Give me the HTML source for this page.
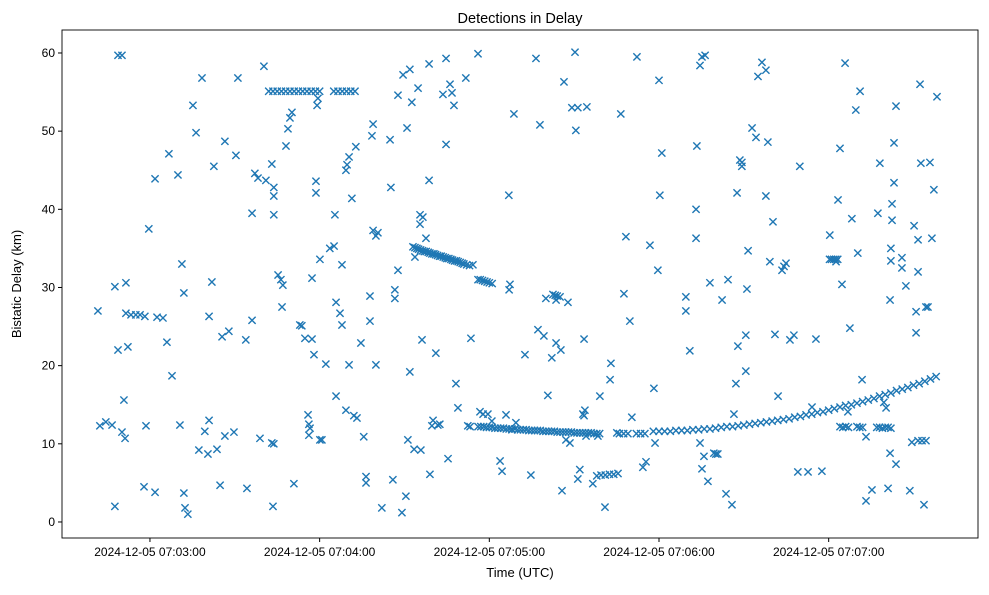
<!DOCTYPE html>
<html><head><meta charset="utf-8"><style>
body{margin:0;background:#fff;font-family:"Liberation Sans",sans-serif;}
svg text{font-family:"Liberation Sans",sans-serif;fill:#000;}
</style></head><body>
<svg id="chart" width="989" height="590" xmlns="http://www.w3.org/2000/svg">
<rect width="989" height="590" fill="#fff"/>
<text x="520" y="23" font-size="14.5" text-anchor="middle">Detections in Delay</text>
<text x="520" y="577" font-size="13" text-anchor="middle">Time (UTC)</text>
<text transform="translate(21,284) rotate(-90)" font-size="13" text-anchor="middle">Bistatic Delay (km)</text>
<g id="ticks"></g>
<g id="marks"></g>
<rect x="62" y="30" width="916" height="508" fill="none" stroke="#000" stroke-width="0.9"/>
</svg>
<script>
// seconds since 07:00:00 UTC, delay in km
const scatterTimes = [161.6,162.3,164.4,166.6,167.6,168.7,170.1,167.6,168.7,170.1,171.2,170.8,171.5,172.2,171.5,173.3,175.0,176.5,178.2,177.9,178.6,179.6,181.8,181.8,182.5,184.6,186.0,186.7,187.8,189.9,190.6,191.3,192.0,192.4,193.4,192.0,195.2,196.3,197.3,198.4,199.4,200.5,200.9,200.9,201.9,202.6,203.7,204.8,205.5,206.5,206.5,207.9,209.7,210.4,211.1,213.9,214.3,216.1,216.1,217.1,218.2,218.9,220.3,221.0,223.1,223.1,223.8,223.5,223.8,223.8,223.8,225.3,226.3,227.0,226.7,228.1,228.8,229.5,230.2,230.9,233.0,233.7,234.8,235.9,236.2,236.2,236.6,237.3,237.3,238.0,238.7,238.7,239.1,239.4,240.1,240.8,240.1,242.2,243.6,245.1,245.4,245.8,245.8,247.2,247.9,247.9,249.3,249.3,249.7,250.4,250.4,251.4,252.1,252.8,253.2,254.6,255.6,256.4,256.4,257.8,257.8,258.5,258.9,259.9,258.9,259.9,260.6,262.0,264.9,265.2,265.9,266.6,266.6,267.7,267.7,269.1,269.5,270.5,270.9,271.2,271.9,271.9,272.6,273.4,273.7,274.8,275.5,275.5,275.8,276.2,276.5,277.6,278.7,278.7,279.0,279.7,280.1,281.1,281.8,282.5,283.6,284.7,284.7,285.4,286.1,286.8,287.5,288.2,288.9,291.7,292.4,293.2,293.5,294.2,296.0,296.7,297.8,299.5,300.9,303.8,304.5,305.9,306.9,308.7,308.0,307.3,309.4,312.6,314.7,316.5,317.2,317.9,319.3,320.0,320.7,322.1,323.6,323.6,325.3,325.7,326.4,327.1,327.8,328.5,329.2,330.3,330.6,331.3,331.3,332.0,333.1,333.5,333.5,333.8,334.2,334.5,336.6,338.4,339.1,340.9,342.7,343.0,345.1,346.5,347.6,348.3,349.7,350.4,352.2,354.3,355.4,356.8,358.6,358.2,360.0,359.6,360.3,361.0,369.5,369.5,370.9,373.4,373.1,373.1,374.5,374.5,375.2,375.9,377.3,378.0,379.4,380.1,380.8,382.3,383.7,384.4,385.8,386.5,387.2,387.6,387.9,388.6,389.3,389.3,390.7,390.7,391.5,391.1,392.9,394.3,395.0,396.4,397.8,397.8,398.5,399.2,400.3,401.0,402.1,403.5,404.2,404.9,406.3,407.7,409.1,409.8,412.7,414.1,415.5,417.6,420.4,422.6,423.3,424.0,424.7,425.8,426.8,427.5,428.2,429.6,430.3,431.1,431.8,433.2,433.2,435.3,437.4,438.1,439.5,440.3,441.7,441.7,441.0,442.0,443.1,442.0,442.4,443.8,442.4,443.1,443.8,445.9,445.9,447.3,448.7,450.2,450.9,450.9,451.6,451.6,452.3,452.6,453.7,454.4,455.1,455.8,456.5,457.2,458.3,449.4,451.6,453.0,454.4,375.2,376.3];
const scatterDelays = [27.0,12.3,12.8,12.4,2.0,59.7,59.7,30.1,22.0,11.5,10.7,15.6,30.6,22.4,26.7,26.5,26.5,26.5,26.3,4.5,12.3,37.5,3.8,43.9,26.2,26.1,23.0,47.1,18.7,44.4,12.4,33.0,3.7,1.8,1.0,29.3,53.3,49.8,9.2,56.8,11.6,8.7,13.0,26.3,30.7,45.5,9.3,4.7,23.7,11.0,48.7,24.4,11.5,46.9,56.8,23.3,4.3,39.5,25.8,44.6,44.0,10.7,58.3,43.7,45.8,10.1,10.0,2.0,39.3,41.7,42.8,31.6,31.0,30.3,27.5,48.1,50.3,51.7,52.4,4.9,25.2,25.1,23.5,13.7,12.5,11.1,12.0,23.4,31.2,21.4,43.6,42.1,53.3,54.2,10.5,10.5,33.6,20.2,35.0,35.3,39.3,16.1,28.1,26.7,32.9,25.2,45.0,14.3,45.7,46.7,20.1,41.4,13.6,48.0,13.3,22.9,10.9,5.8,5.0,28.9,25.7,49.4,50.9,20.1,37.3,36.6,37.0,1.8,48.9,42.8,5.4,28.6,29.7,32.2,54.6,1.2,57.2,3.3,50.4,10.5,19.2,57.9,53.7,9.3,33.9,55.5,38.1,39.3,9.2,23.3,39.0,36.3,43.7,58.6,6.1,12.3,13.0,21.6,12.4,12.5,54.7,59.3,48.3,8.1,56.0,54.9,53.3,17.7,14.6,56.8,12.3,12.2,23.5,32.9,59.9,14.1,13.8,13.8,12.9,7.8,6.5,13.7,41.8,52.2,11.8,30.4,12.7,21.4,6.0,59.3,24.6,50.8,23.8,28.6,16.2,21.0,28.4,22.9,22.0,4.0,56.3,10.5,28.1,10.1,53.0,60.1,50.1,5.5,53.0,6.7,13.8,23.4,13.6,14.3,11.0,53.1,4.9,11.0,16.1,1.9,18.2,20.3,11.4,52.2,29.2,36.5,25.7,13.4,59.5,7.0,7.7,35.4,10.1,17.1,56.5,32.2,41.8,47.2,28.8,27.0,21.9,48.1,36.3,40.0,58.4,10.1,6.8,8.4,5.2,30.6,8.8,8.7,8.7,28.4,3.6,31.0,2.2,13.8,17.7,42.1,22.5,46.3,46.0,45.5,23.9,19.3,34.7,29.8,50.4,49.2,57.0,58.8,57.8,41.7,48.6,33.3,38.4,24.0,16.1,32.2,32.7,33.1,23.3,23.9,6.4,45.5,6.4,14.7,23.4,6.5,36.7,33.3,41.2,47.8,30.4,58.7,14.1,24.8,38.8,52.7,34.4,55.1,18.2,10.9,2.7,4.1,39.5,45.9,15.3,14.6,28.4,8.8,4.3,33.4,48.5,35.0,40.7,53.2,38.6,43.4,7.4,33.8,32.5,30.2,4.0,37.9,26.9,24.2,32.0,36.1,56.0,45.9,2.2,27.5,27.5,46.0,36.3,42.5,54.4,10.2,10.4,10.4,10.4,59.5,59.7];
// descending track ~35 -> 29 km
const trackATimes = [273,273.7,274.4,275,275.7,276.4,277,277.7,278.4,279,279.7,280.4,281,281.7,282.4,283,283.7,284.4,285,285.7,286.4,287,287.7,288.4,289,289.7,290.4,291,292,293,296,296.8,297.6,298.4,299.2,300,301,307,322.5,323.3,324,325];
const trackADelays = [35.2,35.1,35.0,34.9,34.8,34.7,34.6,34.6,34.5,34.4,34.3,34.3,34.2,34.1,34.0,34.0,33.9,33.8,33.7,33.7,33.6,33.5,33.4,33.4,33.3,33.2,33.1,33.0,32.9,32.8,31.0,31.0,30.9,30.8,30.7,30.6,30.5,29.7,29.1,29.0,28.9,28.8];
// ~12 km track
const trackBTimes = [296,297,298,299,300,301,302,303,304,305,306,307,308,309,310,311,312,313,314,315,316,317,318,319,320,321,322,323,324,325,326,327,328,329,330,331,332,333,334,335,336,337,338,339,346,347.5,349,352,353.5,355,338,339.5,341,342.5,344,345.5,424,425,426,427,430,431,432,437,438,439,440,441,442,420.3,421,421.8,422.5,423.2];
const trackBDelays = [12.2,12.2,12.2,12.1,12.1,12.1,12.0,12.0,12.0,12.0,11.9,11.9,11.9,11.9,11.8,11.8,11.8,11.8,11.7,11.7,11.7,11.7,11.7,11.6,11.6,11.6,11.6,11.6,11.5,11.5,11.5,11.5,11.5,11.5,11.4,11.4,11.4,11.4,11.4,11.4,11.4,11.3,11.3,11.3,11.3,11.3,11.3,11.3,11.3,11.3,5.9,6.0,6.0,6.1,6.1,6.2,12.2,12.1,12.2,12.1,12.2,12.1,12.1,12.1,12.1,12.0,12.1,12.1,12.0,33.6,33.6,33.6,33.6,33.6];
// rising track 11.6 -> 18.6 km
const trackCTimes = [358,360,362,364,366,368,370,372,374,376,378,380,382,384,386,388,390,392,394,396,398,400,402,404,406,408,410,412,414,416,418,420,422,424,426,428,430,432,434,436,438,440,442,444,446,448,450,452,454,456,458];
const trackCDelays = [11.6,11.6,11.6,11.6,11.7,11.7,11.7,11.8,11.8,11.9,11.9,12.0,12.1,12.2,12.2,12.3,12.4,12.5,12.6,12.7,12.8,12.9,13.0,13.1,13.2,13.4,13.5,13.7,13.8,14.0,14.1,14.3,14.5,14.7,14.9,15.0,15.2,15.4,15.6,15.8,16.1,16.3,16.5,16.8,17.0,17.2,17.5,17.7,18.0,18.3,18.6];
// horizontal 55.1 km line
const trackDTimes = [222,223.5,225,226.5,228,229.5,231,232.5,234,235.5,237,238.5,240,245,246.5,248,249.5,251,252.5];
const trackDDelays = [55.1,55.1,55.1,55.1,55.1,55.1,55.1,55.1,55.1,55.1,55.1,55.1,55.1,55.1,55.1,55.1,55.1,55.1,55.1];

const xTickValues = [180,240,300,360,420];
const xTickLabels = ["2024-12-05 07:03:00","2024-12-05 07:04:00","2024-12-05 07:05:00","2024-12-05 07:06:00","2024-12-05 07:07:00"];
const yTickValues = [0,10,20,30,40,50,60];

const NS = "http://www.w3.org/2000/svg";
const X0 = 62, X1 = 978, Y0 = 30, Y1 = 538;
const tMin = 148.9, tMax = 472.8, dMin = -2.05, dMax = 62.94;
function xScale(t){ return X0 + (t - tMin) / (tMax - tMin) * (X1 - X0); }
function yScale(d){ return Y1 - (d - dMin) / (dMax - dMin) * (Y1 - Y0); }

const ticks = document.getElementById('ticks');
xTickValues.forEach((v, i) => {
  const x = xScale(v);
  const ln = document.createElementNS(NS, 'line');
  ln.setAttribute('x1', x); ln.setAttribute('x2', x);
  ln.setAttribute('y1', Y1); ln.setAttribute('y2', Y1 + 4);
  ln.setAttribute('stroke', '#000');
  
  
  ticks.appendChild(ln);
  const tx = document.createElementNS(NS, 'text');
  tx.setAttribute('x', x); tx.setAttribute('y', Y1 + 18);
  tx.setAttribute('font-size', '12'); tx.setAttribute('text-anchor', 'middle');
  tx.textContent = xTickLabels[i];
  
  
  ticks.appendChild(tx);
});
yTickValues.forEach(v => {
  const y = yScale(v);
  const ln = document.createElementNS(NS, 'line');
  ln.setAttribute('x1', X0 - 4); ln.setAttribute('x2', X0);
  ln.setAttribute('y1', y); ln.setAttribute('y2', y);
  ln.setAttribute('stroke', '#000');
  
  
  ticks.appendChild(ln);
  const tx = document.createElementNS(NS, 'text');
  tx.setAttribute('x', X0 - 7); tx.setAttribute('y', y + 4);
  tx.setAttribute('font-size', '12'); tx.setAttribute('text-anchor', 'end');
  tx.textContent = v;
  
  
  ticks.appendChild(tx);
});

const marks = document.getElementById('marks');
function drawSeries(ts, ds){
  for (let i = 0; i < ts.length; i++){
    const x = xScale(ts[i]), y = yScale(ds[i]), r = 3.6;
    const p = document.createElementNS(NS, 'path');
    p.setAttribute('d', `M${x-r},${y-r}L${x+r},${y+r}M${x-r},${y+r}L${x+r},${y-r}`);
    p.setAttribute('stroke', '#1f77b4');
    p.setAttribute('stroke-width', '1.4');
    p.setAttribute('fill', 'none');
    
    
    marks.appendChild(p);
  }
}
drawSeries(scatterTimes, scatterDelays);
drawSeries(trackATimes, trackADelays);
drawSeries(trackBTimes, trackBDelays);
drawSeries(trackCTimes, trackCDelays);
drawSeries(trackDTimes, trackDDelays);
</script>
</body></html>
